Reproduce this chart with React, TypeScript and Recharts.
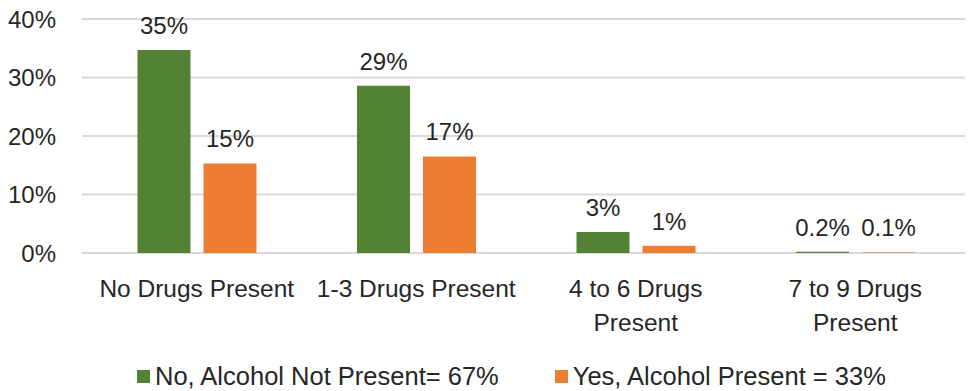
import { BarChart, Bar, XAxis, YAxis, CartesianGrid, Legend, LabelList } from 'recharts';

const CATEGORIES = ['No Drugs Present', '1-3 Drugs Present', '4 to 6 Drugs\nPresent', '7 to 9 Drugs\nPresent'];
const NO_ALCOHOL = [34.7, 28.6, 3.6, 0.2];
const YES_ALCOHOL = [15.3, 16.5, 1.25, 0.1];
const NO_ALCOHOL_LABELS = ['35%', '29%', '3%', '0.2%'];
const YES_ALCOHOL_LABELS = ['15%', '17%', '1%', '0.1%'];
const Y_TICKS = [0, 10, 20, 30, 40];

const SERIES = [
  { key: 'no', name: 'No, Alcohol Not Present= 67%', color: '#548235' },
  { key: 'yes', name: 'Yes, Alcohol Present = 33%', color: '#ED7D31' },
];

const FONT = '"Liberation Sans", Arial, sans-serif';
const TEXT = '#262626';

const data = CATEGORIES.map((name, i) => ({
  name,
  no: NO_ALCOHOL[i],
  yes: YES_ALCOHOL[i],
  noLabel: NO_ALCOHOL_LABELS[i],
  yesLabel: YES_ALCOHOL_LABELS[i],
}));

function CategoryTick({ x, y, payload }: any) {
  const lines = String(payload.value).split('\n');
  return (
    <text x={x} y={y} textAnchor="middle" fill={TEXT} fontSize={24.5} fontFamily={FONT}>
      {lines.map((line, i) => (
        <tspan key={i} x={x} y={y + 44 + i * 34}>
          {line}
        </tspan>
      ))}
    </text>
  );
}

function LegendContent() {
  return (
    <div style={{ display: 'flex', alignItems: 'center', paddingLeft: 137, height: 26, fontFamily: FONT, fontSize: 25.5, color: TEXT }}>
      {SERIES.map((s, i) => (
        <div key={s.key} style={{ display: 'flex', alignItems: 'center', marginRight: i === 0 ? 56 : 0 }}>
          <span style={{ display: 'inline-block', width: 13, height: 13, background: s.color, marginRight: 5 }} />
          <span>{s.name}</span>
        </div>
      ))}
    </div>
  );
}

export default function App() {
  return (
    <div style={{ position: 'absolute', left: 0, top: 0, background: '#fff' }}>
      <BarChart
        width={975}
        height={391}
        data={data}
        margin={{ top: 19, right: 10, left: 0, bottom: 2 }}
        barCategoryGap="23%"
        barGap={13}
        style={{ fontFamily: FONT }}
      >
        <CartesianGrid vertical={false} stroke="#d9d9d9" strokeWidth={2} />
        <XAxis
          dataKey="name"
          interval={0}
          axisLine={false}
          tickLine={false}
          tickSize={0}
          tickMargin={0}
          height={110}
          padding={{ left: 5, right: 0 }}
          tick={<CategoryTick />}
        />
        <YAxis
          domain={[0, 40]}
          ticks={Y_TICKS}
          width={82}
          axisLine={false}
          tickLine={false}
          tickSize={0}
          tickMargin={26}
          tickFormatter={(v) => `${v}%`}
          tick={{ fill: TEXT, fontSize: 24, fontFamily: FONT }}
        />
        <Legend verticalAlign="bottom" content={<LegendContent />} />
        {SERIES.map((s) => (
          <Bar key={s.key} dataKey={s.key} name={s.name} fill={s.color} isAnimationActive={false}>
            <LabelList
              dataKey={`${s.key}Label`}
              position="top"
              offset={16}
              fill={TEXT}
              fontSize={24}
              fontFamily={FONT}
            />
          </Bar>
        ))}
      </BarChart>
    </div>
  );
}
